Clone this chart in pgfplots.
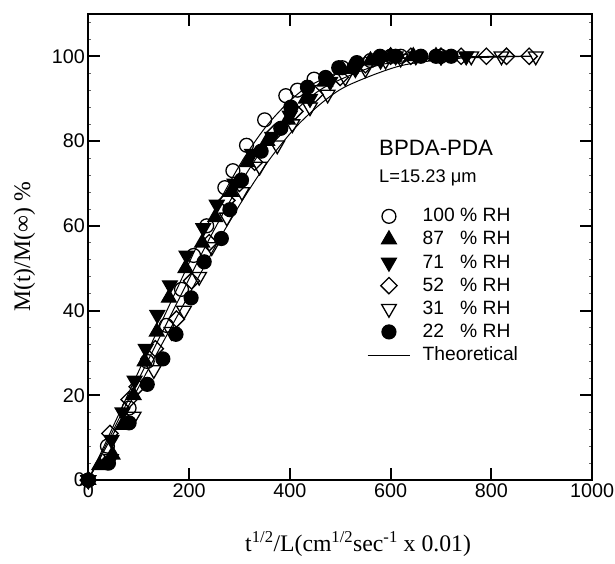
\documentclass[border=0pt]{standalone}
\usepackage{fontspec}
\setmainfont{Liberation Sans}
\newfontfamily\seriffont{Liberation Serif}
\usepackage{pgfplots}
\pgfplotsset{compat=1.18}
\pgfplotsset{
  mk/.style={only marks, mark size=7bp, line width=1.3bp,
    legend image code/.code={\path[draw=none,fill=none] (0bp,-6bp) (43bp,6bp);\draw[##1] plot coordinates {(21.5bp,0bp)};}},
  th/.style={no marks, line width=1bp, black, smooth,
    legend image code/.code={\path[draw=none,fill=none] (0bp,-6bp) (43bp,6bp);\draw[##1] (0bp,0bp) -- (43bp,0bp);}},
}
\begin{document}
\begin{tikzpicture}
\begin{axis}[
  at={(0,0)}, anchor=south west,
  scale only axis, width=508bp, height=470bp,
  xmin=0, xmax=1000, ymin=0, ymax=110,
  xtick={0,200,...,1000}, ytick={0,20,...,100},
  minor ytick={4,8,...,108},
  tick align=inside, major tick length=12bp, minor tick length=3bp,
  axis line style={line width=2.4bp},
  major tick style={line width=2bp, black},
  minor tick style={line width=0.6bp, black!60},
  tick label style={font=\fontsize{20}{23}\selectfont},
  /pgf/number format/assume math mode=true,
  /pgf/number format/set thousands separator={},
  xlabel={\seriffont\fontsize{24}{28}\selectfont t\textsuperscript{1/2}/L(cm\textsuperscript{1/2}sec\textsuperscript{-1} x 0.01)},
  ylabel={\seriffont\fontsize{24}{28}\selectfont M(t)/M(∞) \%},
  xlabel style={xshift=18bp, yshift=-27bp},
  ylabel style={yshift=10bp},
  clip=false,
  legend cell align=left,
  legend style={at={(axis cs:553,64.5)}, anchor=north west, draw=none, fill=none,
    font=\fontsize{19.5}{23}\selectfont, row sep=4.3bp, column sep=12bp, inner sep=0pt,
    nodes={inner sep=0bp, text height=15bp, text depth=4bp}},
]
\addplot[mk, mark=o, fill=white] coordinates {
(0,0)(38,8)(81,17)(117,28)(155,36.5)(185,45)(209,53)(235,60)(271,69)(287,73)(314,79)(350,85)(392,90.7)(415,92)(448,94.6)(504,97.3)(560,99)(600,100)(620,100)(700,100)};
\addlegendentry{100 \% RH}
\addplot[mk, mark=triangle*, mark size=8.5bp, fill=black] coordinates {
(0,0)(22,3.5)(48,6)(68,13)(90,20)(112,28)(136,35)(160,43)(193,50)(226,56)(252,62)(283,68)(316,75)(355,80)(396,85)(432,90)(470,94)(520,97)(560,99)(600,100)(645,100)(690,100)};
\addlegendentry{87\hphantom{0} \% RH}
\addplot[mk, mark=triangle*, mark size=8.5bp, fill=black, mark options={rotate=180}] coordinates {
(0,0)(46,9.5)(68,16)(92,23.5)(114,31)(137,39)(162,46)(195,53)(228,59.5)(255,65)(290,70)(325,77)(365,81)(400,86)(440,90)(480,94)(530,97)(580,99)(610,100)(650,100)(700,100)(750,100)};
\addlegendentry{71\hphantom{0} \% RH}
\addplot[mk, mark=square, mark size=5.8bp, fill=white, mark options={rotate=45}] coordinates {
(0,0)(43,11)(81,19)(97,22)(133,31)(175,38)(205,47)(240,56)(275,66)(300,70)(330,75)(370,82)(410,87)(450,91)(500,95)(550,98)(600,100)(640,100)(700,100)(740,100)(790,100)(830,100)(875,100)};
\addlegendentry{52\hphantom{0} \% RH}
\addplot[mk, mark=triangle, mark size=8.5bp, fill=white, mark options={rotate=180}] coordinates {
(0,0)(45,5)(90,15)(130,26)(165,35)(190,40)(220,48)(245,55)(275,62)(305,68)(340,74)(375,79)(405,84)(440,88)(475,91)(510,95)(550,97)(590,99)(620,99.5)(700,100)(760,100)(820,100)(888,100)};
\addlegendentry{31\hphantom{0} \% RH}
\addplot[mk, mark=*, fill=black] coordinates {
(0,0)(40,4)(81,13.5)(117,22.6)(148,28.6)(174,34.4)(204,43)(230,51.5)(264,57)(281,63.8)(304,70.8)(343,77.6)(382,83)(402,88)(435,92.7)(471,95)(497,97.3)(533,98.5)(579,100)(610,100)(660,100)(690,100)(720,100)};
\addlegendentry{22\hphantom{0} \% RH}
\addplot[th] coordinates {
(0,0)(44,11.3)(88,22.6)(132,33.9)(176,45.1)(220,56.3)(264,66.6)(308,75.8)(352,83.3)(396,89.0)(440,93.1)(528,97.7)(616,99.4)(704,99.85)(880,100)};
\addlegendentry{Theoretical}
\addplot[th, forget plot] coordinates {
(0,0)(47.5,11.3)(95,22.6)(142.5,33.9)(190,45.1)(237.5,56.3)(285,66.6)(332.5,75.8)(380,83.3)(427.5,89.0)(475,93.1)(570,97.7)(665,99.4)(760,99.85)(880,100)};
\addplot[th, forget plot] coordinates {
(0,0)(51.5,11.3)(103,22.6)(154.5,33.9)(206,45.1)(257.5,56.3)(309,66.6)(360.5,75.8)(412,83.3)(463.5,89.0)(515,93.1)(618,97.7)(721,99.4)(824,99.85)(880,100)};
\node[anchor=west, inner sep=0pt, font=\fontsize{22.5}{26}\selectfont] at (axis cs:577,78.3) {BPDA-PDA};
\node[anchor=west, inner sep=0pt, font=\fontsize{18.5}{22}\selectfont] at (axis cs:577,71.2) {L=15.23 μm};
\end{axis}
\pgfresetboundingbox
\path (-89bp,-84bp) rectangle (531bp,484bp);
\end{tikzpicture}
\end{document}
